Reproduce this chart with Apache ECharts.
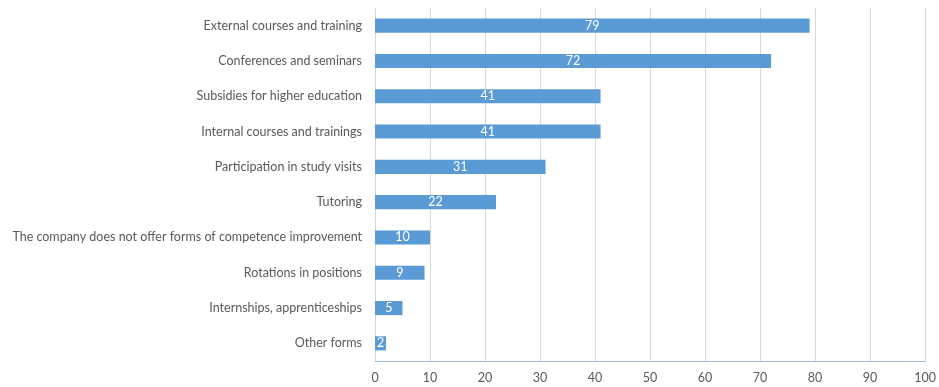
<!DOCTYPE html>
<html>
<head>
<meta charset="utf-8">
<style>
  html, body { margin: 0; padding: 0; background: #ffffff; }
  #chart { width: 939px; height: 387px; }
</style>
<script src="https://cdn.jsdelivr.net/npm/echarts@6/dist/echarts.min.js"></script>
</head>
<body>
<div id="chart"></div>
<script>
// Forms of competence improvement offered by companies (share, %)
const categories = [
  'External courses and training',
  'Conferences and seminars',
  'Subsidies for higher education',
  'Internal courses and trainings',
  'Participation in study visits',
  'Tutoring',
  'The company does not offer forms of competence improvement',
  'Rotations in positions',
  'Internships, apprenticeships',
  'Other forms'
];
const values = [79, 72, 41, 41, 31, 22, 10, 9, 5, 2];
const axisMin = 0;
const axisMax = 100;
const axisStep = 10;

const chart = echarts.init(document.getElementById('chart'), null, { renderer: 'canvas' });
const font = 'Lato, "Open Sans", sans-serif';

chart.setOption({
  animation: false,
  grid: { left: 375, right: 12, top: 8, bottom: 26, containLabel: false },
  xAxis: {
    type: 'value',
    min: axisMin,
    max: axisMax,
    interval: axisStep,
    axisLine: { show: true, lineStyle: { color: '#9cc0e4', width: 1 } },
    axisTick: { show: false },
    splitLine: { show: true, lineStyle: { color: '#d9d9d9', width: 1 } },
    axisLabel: { color: '#595959', fontSize: 12.5, fontFamily: font, margin: 10 }
  },
  yAxis: {
    type: 'category',
    inverse: true,
    data: categories,
    axisLine: { show: false },
    axisTick: { show: false },
    axisLabel: { color: '#595959', fontSize: 12.5, fontFamily: font, margin: 13 }
  },
  series: [{
    type: 'bar',
    data: values,
    barWidth: '40%',
    itemStyle: { color: '#5b9bd5' },
    label: {
      show: true,
      position: 'inside',
      color: '#ffffff',
      fontSize: 12.5,
      fontFamily: font
    }
  }]
});
</script>
</body>
</html>
